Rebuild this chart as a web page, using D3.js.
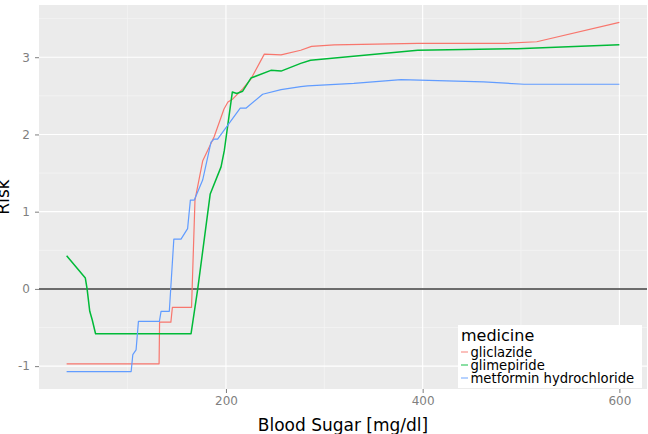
<!DOCTYPE html>
<html>
<head>
<meta charset="utf-8">
<script src="https://cdn.jsdelivr.net/npm/d3@7"></script>
<style>
  html, body { margin: 0; padding: 0; background: #ffffff; }
  svg { display: block; }
</style>
</head>
<body>
<svg id="chart" width="648" height="434"></svg>
<script>
// ---- data ----
const medicines = ["gliclazide", "glimepiride", "metformin hydrochloride"];
const colors = ["#F8766D", "#00BA38", "#619CFF"];

const gliclazideSugar = [38, 132, 132.5, 144, 145.5, 165, 168.5, 176.4, 188, 198, 202, 207, 217, 225.5, 239, 256, 276, 287, 310, 395, 484, 516, 600];
const gliclazideRisk  = [-0.97, -0.97, -0.43, -0.43, -0.24, -0.24, 1.15, 1.66, 1.97, 2.33, 2.42, 2.46, 2.59, 2.72, 3.04, 3.03, 3.09, 3.14, 3.16, 3.18, 3.18, 3.20, 3.45];

const glimepirideSugar = [38, 57, 58.8, 61.5, 64, 67.4, 164.5, 171.3, 184, 195, 198.3, 206.5, 211, 217, 225.4, 245.7, 256, 276, 286, 395, 496, 600];
const glimepirideRisk  = [0.43, 0.14, 0.0, -0.29, -0.40, -0.58, -0.58, 0.0, 1.23, 1.58, 1.79, 2.55, 2.53, 2.56, 2.73, 2.83, 2.82, 2.92, 2.96, 3.09, 3.11, 3.16];

const metforminSugar = [38, 103.6, 105.3, 108.6, 111, 132.3, 134, 142.4, 147, 154.3, 161, 163.8, 167.8, 176.3, 184.8, 188, 191.5, 214.5, 220.3, 237.3, 256, 276, 283, 330, 378, 462, 503, 600];
const metforminRisk  = [-1.07, -1.07, -0.85, -0.79, -0.42, -0.42, -0.29, -0.29, 0.645, 0.645, 0.78, 1.15, 1.15, 1.41, 1.90, 1.94, 1.94, 2.34, 2.34, 2.52, 2.58, 2.62, 2.63, 2.66, 2.71, 2.68, 2.65, 2.65];

const xTicks = [200, 400, 600];
const yTicks = [-1, 0, 1, 2, 3];
const xMinor = [100, 300, 500];
const yMinor = [-0.5, 0.5, 1.5, 2.5, 3.5];
const xTitle = "Blood Sugar [mg/dl]";
const yTitle = "Risk";
const legendTitle = "medicine";

// ---- build series ----
const seriesX = [gliclazideSugar, glimepirideSugar, metforminSugar];
const seriesY = [gliclazideRisk, glimepirideRisk, metforminRisk];
const series = medicines.map((m, i) => ({
  name: m, color: colors[i],
  points: seriesX[i].map((x, j) => ({x, y: seriesY[i][j]}))
}));

// ---- layout ----
const panel = {left: 39, right: 647, top: 5, bottom: 389};
const allX = seriesX.flat(), allY = seriesY.flat();
const [x0, x1] = d3.extent(allX), [y0, y1] = d3.extent(allY);
const ex = (x1 - x0) * 0.05, ey = (y1 - y0) * 0.05;

const x = d3.scaleLinear().domain([x0 - ex, x1 + ex]).range([panel.left, panel.right]);
const y = d3.scaleLinear().domain([y0 - ey, y1 + ey]).range([panel.bottom, panel.top]);

const svg = d3.select("#chart");
const font = "'DejaVu Sans', sans-serif";

// panel background
svg.append("rect")
  .attr("x", panel.left).attr("y", panel.top)
  .attr("width", panel.right - panel.left).attr("height", panel.bottom - panel.top)
  .attr("fill", "#EBEBEB");

// minor grid
const grid = svg.append("g");
grid.selectAll(".ymin").data(yMinor.filter(v => y(v) > panel.top)).enter().append("line")
  .attr("x1", panel.left).attr("x2", panel.right)
  .attr("y1", d => y(d)).attr("y2", d => y(d))
  .attr("stroke", "#F4F4F4").attr("stroke-width", 0.8);
grid.selectAll(".xmin").data(xMinor).enter().append("line")
  .attr("y1", panel.top).attr("y2", panel.bottom)
  .attr("x1", d => x(d)).attr("x2", d => x(d))
  .attr("stroke", "#F4F4F4").attr("stroke-width", 0.8);
// major grid
grid.selectAll(".ymaj").data(yTicks).enter().append("line")
  .attr("x1", panel.left).attr("x2", panel.right)
  .attr("y1", d => y(d)).attr("y2", d => y(d))
  .attr("stroke", "#FFFFFF").attr("stroke-width", 1.1);
grid.selectAll(".xmaj").data(xTicks).enter().append("line")
  .attr("y1", panel.top).attr("y2", panel.bottom)
  .attr("x1", d => x(d)).attr("x2", d => x(d))
  .attr("stroke", "#FFFFFF").attr("stroke-width", 1.1);

// zero reference line
svg.append("line")
  .attr("x1", panel.left).attr("x2", panel.right)
  .attr("y1", y(0)).attr("y2", y(0))
  .attr("stroke", "#3C3C3C").attr("stroke-width", 1.5);

// series lines
const line = d3.line().x(d => x(d.x)).y(d => y(d.y));
svg.append("g").selectAll("path").data(series).enter().append("path")
  .attr("d", d => line(d.points))
  .attr("fill", "none")
  .attr("stroke", d => d.color)
  .attr("stroke-width", (d, i) => i === 1 ? 1.5 : 1.2)
  .attr("stroke-linejoin", "round");

// axes
const xAxis = d3.axisBottom(x).tickValues(xTicks).tickSize(4).tickPadding(3);
const yAxis = d3.axisLeft(y).tickValues(yTicks).tickSize(4).tickPadding(5)
  .tickFormat(d3.format("d"));

const gx = svg.append("g").attr("transform", `translate(0,${panel.bottom})`).call(xAxis);
const gy = svg.append("g").attr("transform", `translate(${panel.left},0)`).call(yAxis);
[gx, gy].forEach(g => {
  g.select(".domain").remove();
  g.selectAll(".tick line").attr("stroke", "#7F7F7F");
  g.selectAll(".tick text").attr("fill", "#7F7F7F")
    .style("font-family", font).style("font-size", "12px");
});
gy.selectAll(".tick text").text(d => d < 0 ? "-" + Math.abs(d) : d);

// axis titles
svg.append("text")
  .attr("x", (panel.left + panel.right) / 2).attr("y", 431)
  .attr("text-anchor", "middle")
  .style("font-family", font).style("font-size", "17px").attr("fill", "#000")
  .text(xTitle);
svg.append("text")
  .attr("transform", `translate(9,${(panel.top + panel.bottom) / 2}) rotate(-90)`)
  .attr("text-anchor", "middle")
  .style("font-family", font).style("font-size", "17px").attr("fill", "#000")
  .text(yTitle);

// legend
const lg = svg.append("g").attr("transform", "translate(458,325)");
lg.append("rect").attr("width", 184).attr("height", 63).attr("fill", "#FFFFFF");
lg.append("text").attr("x", 3).attr("y", 16)
  .style("font-family", font).style("font-size", "16px").attr("fill", "#000")
  .text(legendTitle);
const items = lg.selectAll(".item").data(series).enter().append("g")
  .attr("transform", (d, i) => `translate(0,${31.5 + i * 13})`);
items.append("line").attr("x1", 3).attr("x2", 10).attr("y1", -4.5).attr("y2", -4.5)
  .attr("stroke", d => d.color).attr("stroke-width", 1.3).attr("opacity", 0.7);
items.append("text").attr("x", 12.5).attr("y", 0)
  .style("font-family", font).style("font-size", "13.2px").attr("fill", "#000")
  .text(d => d.name);
</script>
</body>
</html>
